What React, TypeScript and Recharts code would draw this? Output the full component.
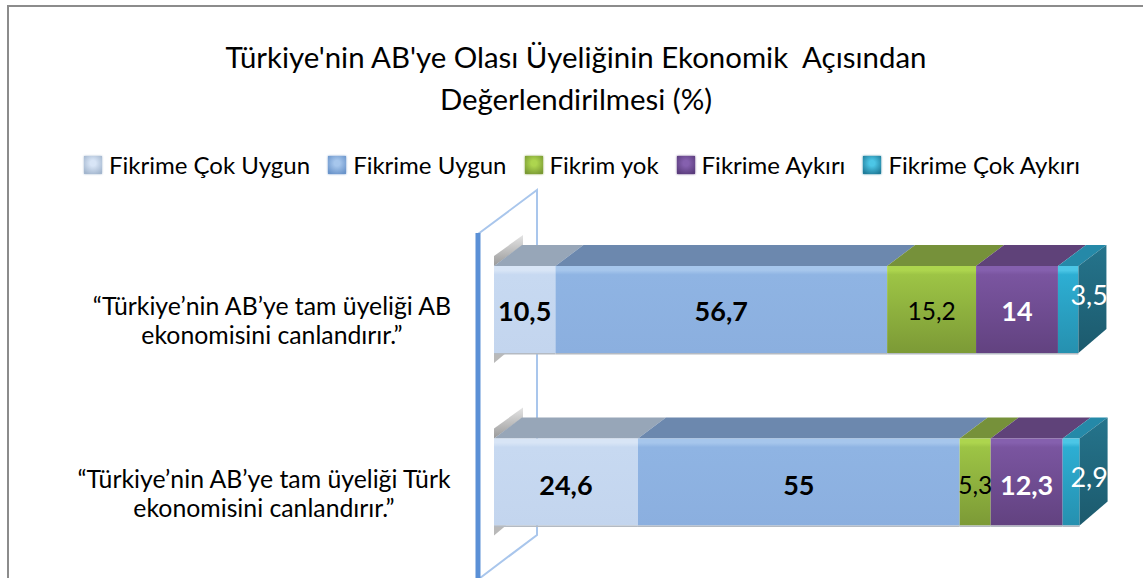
import { BarChart, Bar, XAxis, YAxis, LabelList } from 'recharts';

// categories and series
const questions = [
  '“Türkiye’nin AB’ye tam üyeliği AB|ekonomisini canlandırır.”',
  '“Türkiye’nin AB’ye tam üyeliği Türk|ekonomisini canlandırır.”',
];
const seriesNames = ['Fikrime Çok Uygun', 'Fikrime Uygun', 'Fikrim yok', 'Fikrime Aykırı', 'Fikrime Çok Aykırı'];
const cokUygun = [10.5, 24.6];
const uygun = [56.7, 55];
const fikrimYok = [15.2, 5.3];
const aykiri = [14, 12.3];
const cokAykiri = [3.5, 2.9];
const allSeries = [cokUygun, uygun, fikrimYok, aykiri, cokAykiri];

const rows = questions.map((q, i) => {
  const row: any = { q };
  seriesNames.forEach((n, s) => { row[n] = allSeries[s][i]; });
  return row;
});

// front top / mid / bottom, top face, legend swatch
const palette = [
  { hi: '#D8E5F6', front: '#C7D9F1', low: '#C3D5EE', top: '#97A6B8', icon: '#A3B6CE' },
  { hi: '#A6C6EC', front: '#8FB4E3', low: '#8BAFDF', top: '#6C88AE', icon: '#6A94CA' },
  { hi: '#ADD54E', front: '#9DC445', low: '#7C9A36', top: '#76913A', icon: '#7A9A34' },
  { hi: '#8560AE', front: '#7A55A0', low: '#624280', top: '#5F4279', icon: '#5A3C7C' },
  { hi: '#4CC6E6', front: '#2DAED3', low: '#2690AF', top: '#2589A8', icon: '#207C9A' },
];

const DX = 28;
const DY = 21;

const make3dBar = (s: number) => (props: any) => {
  const { x, y, width, height } = props;
  const c = palette[s];
  return (
    <g>
      {s === 0 && (
        <>
          <polygon points={`${x},${y - 10} ${x + 29},${y - 31} ${x + 29},${y - 21} ${x},${y}`} fill="url(#backShadow)" />
          <polygon points={`${x},${y + height} ${x + 12},${y + height} ${x},${y + height + 10}`} fill="#B9B9B9" />
        </>
      )}
      <polygon
        points={`${x},${y} ${x + width},${y} ${x + width + DX},${y - DY} ${x + DX},${y - DY}`}
        fill={c.top}
      />
      <rect x={x} y={y} width={width} height={height} fill={`url(#front${s})`} />
      <rect x={x} y={y + height} width={width} height={1.5} fill="#B4BAC2" />
      {s === 4 && (
        <polygon
          points={`${x + width},${y} ${x + width + DX},${y - DY} ${x + width + DX},${y + height - DY - 3} ${x + width},${y + height}`}
          fill="url(#sideFace)"
        />
      )}
    </g>
  );
};

// label look per series, then per row where a label sits off centre
const labelLook = [
  { weight: 700, color: '#000', size: 27 },
  { weight: 700, color: '#000', size: 27 },
  { weight: 400, color: '#000', size: 24.5 },
  { weight: 700, color: '#fff', size: 27 },
  { weight: 400, color: '#fff', size: 27 },
];
const lastLabelShift = [[21, -15], [18, -6]];

const makeLabel = (s: number) => (props: any) => {
  const { x, y, width, height, value, index } = props;
  const look = labelLook[s];
  const shift = s === 4 ? lastLabelShift[index] : [0, index === 0 ? 0.5 : 2];
  return (
    <text
      x={x + width / 2 + shift[0]}
      y={y + height / 2 + shift[1]}
      textAnchor="middle"
      dominantBaseline="central"
      fontFamily="Lato"
      fontWeight={look.weight}
      fontSize={look.size}
      fill={look.color}
    >
      {String(value).replace('.', ',')}
    </text>
  );
};

const tickCenters = [272, 264];

const QuestionTick = ({ y, payload, index }: any) => {
  const lines = String(payload.value).split('|');
  return (
    <text fontFamily="Lato" fontSize={24.8} fill="#000" textAnchor="middle">
      {lines.map((l, i) => (
        <tspan key={i} x={tickCenters[index]} y={y + 6 + i * 29}>{l}</tspan>
      ))}
    </text>
  );
};

const Wall = () => (
  <g>
    <polyline points="478,234 537,190 537,535 480,578" fill="none" stroke="#A9C6EC" strokeWidth={2} />
    <line x1={478} y1={233} x2={478} y2={578} stroke="#5B90D6" strokeWidth={5} />
  </g>
);

export default function App() {
  return (
    <div style={{ position: 'absolute', left: 0, top: 0, width: 1143, height: 578, overflow: 'hidden', background: '#fff', fontFamily: 'Lato' }}>
      {/* only the left and top edges of the frame show in the crop */}
      <div style={{ position: 'absolute', left: 7, top: 5, width: 1140, height: 600, borderLeft: '2px solid #8C8C8C', borderTop: '2px solid #8C8C8C' }} />
      <div style={{ position: 'absolute', left: 0, top: 36, width: 1152, textAlign: 'center', fontSize: 29.4, lineHeight: '42px', color: '#000' }}>
        Türkiye'nin AB'ye Olası Üyeliğinin Ekonomik&nbsp; Açısından<br />Değerlendirilmesi (%)
      </div>
      <div style={{ position: 'absolute', left: 84, top: 150, display: 'flex', gap: 18, fontSize: 24, lineHeight: '30px', color: '#000', whiteSpace: 'nowrap' }}>
        {seriesNames.map((n, s) => (
          <div key={n} style={{ display: 'flex', alignItems: 'center', gap: 7 }}>
            <span style={{
              width: 18, height: 18, display: 'inline-block',
              background: `radial-gradient(circle at 50% 40%, ${palette[s].hi} 20%, ${palette[s].icon} 85%)`,
              boxShadow: `0 0 2px ${palette[s].icon}`,
            }} />
            {n}
          </div>
        ))}
      </div>
      <div style={{ position: 'absolute', left: 0, top: 0 }}>
        <BarChart
          width={1143}
          height={578}
          data={rows}
          layout="vertical"
          margin={{ top: 223, right: 63.4, bottom: 10, left: 0 }}
          barCategoryGap={0}
          style={{ overflow: 'visible' }}
        >
          <defs>
            {palette.map((c, s) => (
              <linearGradient key={s} id={`front${s}`} x1="0" y1="0" x2="0" y2="1">
                <stop offset="0" stopColor={c.hi} />
                <stop offset="0.05" stopColor={c.hi} />
                <stop offset="0.1" stopColor={c.front} />
                <stop offset="1" stopColor={c.low} />
              </linearGradient>
            ))}
            <linearGradient id="sideFace" x1="0" y1="0" x2="0" y2="1">
              <stop offset="0" stopColor="#25748C" />
              <stop offset="1" stopColor="#1C5A6D" />
            </linearGradient>
            <linearGradient id="backShadow" x1="0" y1="0" x2="0" y2="1">
              <stop offset="0" stopColor="#E4E4E4" />
              <stop offset="1" stopColor="#9A9A9A" />
            </linearGradient>
          </defs>
          <Wall />
          <XAxis type="number" hide domain={[0, 100.1]} />
          <YAxis
            type="category"
            dataKey="q"
            width={494}
            axisLine={false}
            tickLine={false}
            interval={0}
            tick={<QuestionTick />}
          />
          {seriesNames.map((n, s) => (
            <Bar key={n} dataKey={n} stackId="a" barSize={87} shape={make3dBar(s)} isAnimationActive={false}>
              <LabelList dataKey={n} content={makeLabel(s)} />
            </Bar>
          ))}
        </BarChart>
      </div>
    </div>
  );
}
